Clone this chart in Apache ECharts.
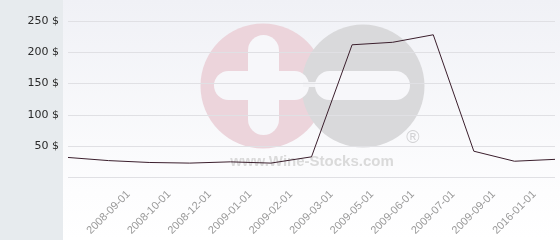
<!DOCTYPE html>
<html><head><meta charset="utf-8">
<script src="https://cdn.jsdelivr.net/npm/echarts@6/dist/echarts.min.js"></script>
<style>html,body{margin:0;padding:0;background:#fff}#c{width:560px;height:240px}</style>
</head><body><div id="c"></div>
<script>
var categories = ['', '2008-09-01', '2008-10-01', '2008-12-01', '2009-01-01', '2009-02-01', '2009-03-01', '2009-05-01', '2009-06-01', '2009-07-01', '2009-09-01', '2016-01-01', ''];
var prices = [32, 27, 24, 23, 25, 23, 33, 212, 216, 228, 42, 26, 29];
var yMin = 0, yMax = 250, yStep = 50;

var chart = echarts.init(document.getElementById('c'), null, {renderer: 'canvas'});
chart.setOption({
  animation: false,
  backgroundColor: '#ffffff',
  graphic: [
    {type: 'rect', z: -30, shape: {x: 0, y: 0, width: 63, height: 240}, style: {fill: '#e7ebee'}},
    {type: 'rect', z: -30, shape: {x: 63, y: 0, width: 497, height: 240},
      style: {fill: {type: 'linear', x: 0, y: 0, x2: 0, y2: 1, colorStops: [{offset: 0, color: '#f0f1f6'}, {offset: 0.8, color: '#fdfdfe'}, {offset: 1, color: '#ffffff'}]}}},
    {type: 'circle', z: -25, shape: {cx: 263, cy: 86, r: 62.5}, style: {fill: '#ecd4db'}},
    {type: 'circle', z: -24, shape: {cx: 363, cy: 86, r: 61.5}, style: {fill: '#d9d9db'}},
    {type: 'rect', z: -23, shape: {x: 248, y: 35, width: 31, height: 100, r: 15.5}, style: {fill: '#f7f7fa'}},
    {type: 'rect', z: -23, shape: {x: 214, y: 71, width: 95, height: 29, r: 14.5}, style: {fill: '#f7f7fa'}},
    {type: 'rect', z: -23, shape: {x: 303, y: 82, width: 15, height: 5}, style: {fill: '#f3f3f6'}},
    {type: 'rect', z: -23, shape: {x: 315, y: 71, width: 95, height: 29, r: 14.5}, style: {fill: '#f7f7fa'}},
    {type: 'text', z: -22, x: 413, y: 138, style: {text: '®', fill: '#d2d2d4', font: '18px "Liberation Sans"', align: 'center', verticalAlign: 'middle'}},
    {type: 'text', z: -22, x: 312, y: 162, style: {text: 'www.Wine-Stocks.com', fill: '#dadada', font: 'bold 15px "Liberation Sans"', align: 'center', verticalAlign: 'middle'}}
  ],
  grid: {left: 68, right: 5, top: 21, bottom: 62.5, containLabel: false},
  xAxis: {
    type: 'category', data: categories, boundaryGap: false,
    axisLine: {show: false}, axisTick: {show: false},
    axisLabel: {interval: 0, rotate: 45, align: 'center', verticalAlign: 'middle', margin: 35,
      color: '#9a9a9a', fontFamily: 'Liberation Sans', fontSize: 11}
  },
  yAxis: {
    type: 'value', min: yMin, max: yMax, interval: yStep,
    axisLine: {show: false}, axisTick: {show: false},
    splitLine: {lineStyle: {color: '#e0e0e4', width: 1}},
    axisLabel: {showMinLabel: false, formatter: '{value} $', margin: 9, color: '#2a2a2a', fontFamily: 'DejaVu Sans', fontSize: 11}
  },
  series: [{
    type: 'line', data: prices, symbol: 'none', smooth: false,
    lineStyle: {color: '#3b1f2d', width: 1}
  }]
});
</script></body></html>
